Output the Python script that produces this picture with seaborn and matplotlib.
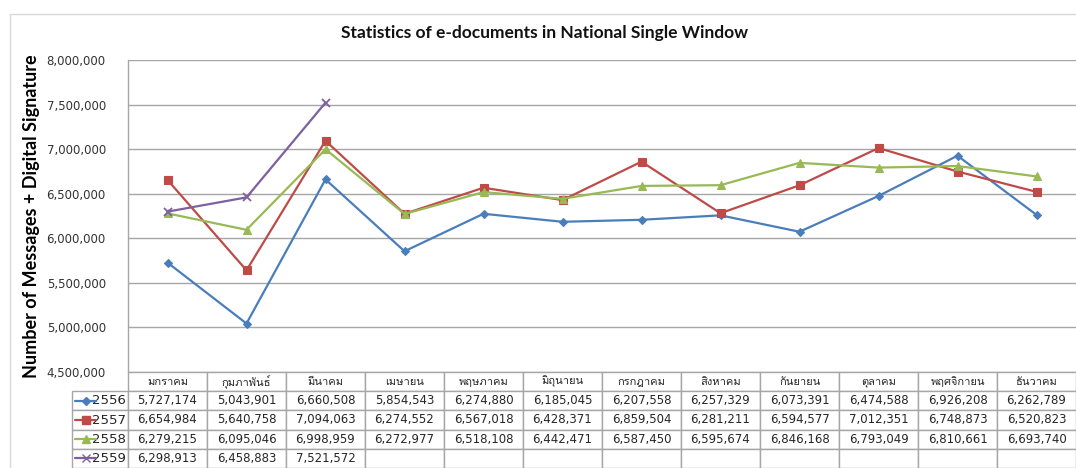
import matplotlib
matplotlib.use("Agg")
import matplotlib.pyplot as plt
from matplotlib import font_manager
from matplotlib.ft2font import FT2Font
from matplotlib.lines import Line2D
from matplotlib.table import Table
from matplotlib.ticker import FuncFormatter
import seaborn as sns
import pandas as pd
import numpy as np

# ---------------- data ----------------
months = ["มกราคม", "กุมภาพันธ์", "มีนาคม", "เมษายน", "พฤษภาคม", "มิถุนายน",
          "กรกฎาคม", "สิงหาคม", "กันยายน", "ตุลาคม", "พฤศจิกายน", "ธันวาคม"]
years = ["2556", "2557", "2558", "2559"]
y2556 = [5727174, 5043901, 6660508, 5854543, 6274880, 6185045,
         6207558, 6257329, 6073391, 6474588, 6926208, 6262789]
y2557 = [6654984, 5640758, 7094063, 6274552, 6567018, 6428371,
         6859504, 6281211, 6594577, 7012351, 6748873, 6520823]
y2558 = [6279215, 6095046, 6998959, 6272977, 6518108, 6442471,
         6587450, 6595674, 6846168, 6793049, 6810661, 6693740]
y2559 = [6298913, 6458883, 7521572]
title = "Statistics of e-documents in National Single Window"
ylabel = "Number of Messages + Digital Signature"
yticks = [4500000, 5000000, 5500000, 6000000, 6500000, 7000000, 7500000, 8000000]

series = {"2556": y2556, "2557": y2557, "2558": y2558, "2559": y2559}
colors = {"2556": "#4A7EBB", "2557": "#BE4B48", "2558": "#98B954", "2559": "#7D60A0"}
markers = {"2556": "D", "2557": "s", "2558": "^", "2559": "x"}
msizes = {"2556": 4.5, "2557": 6, "2558": 6, "2559": 6}

# ---------------- find a Thai-capable font ----------------
thai_family = None
for fe in font_manager.fontManager.ttflist:
    try:
        cm = FT2Font(fe.fname).get_charmap()
        if 0x0E21 in cm and 0x0E01 in cm:
            thai_family = fe.name
            break
    except Exception:
        pass
thai_fams = ([thai_family] if thai_family else []) + ["DejaVu Sans"]

sns.set_theme(style="white")
plt.rcParams["font.family"] = ["DejaVu Sans"] + ([thai_family] if thai_family else [])

W, H = 1076, 468
fig = plt.figure(figsize=(W / 100, H / 100), dpi=100)
fig.patch.set_facecolor("white")
ax_l, ax_r, ax_t, ax_b = 128, 1076, 60, 372
ax = fig.add_axes([ax_l / W, 1 - ax_b / H, (ax_r - ax_l) / W, (ax_b - ax_t) / H])
ax_w = ax_r - ax_l
ax_h = ax_b - ax_t

for yr in years:
    vals = series[yr]
    d = pd.DataFrame({"idx": np.arange(len(vals)), "value": vals})
    sns.lineplot(data=d, x="idx", y="value", color=colors[yr], marker=markers[yr],
                 markersize=msizes[yr], markeredgecolor=colors[yr],
                 markeredgewidth=1.3 if yr == "2559" else 0.8,
                 linewidth=1.6, legend=False, ax=ax, zorder=3)

ax.set_xlim(-0.5, 11.5)
ax.set_ylim(4500000, 8000000)
ax.set_yticks(yticks)
ax.yaxis.set_major_formatter(FuncFormatter(lambda v, p: f"{int(v):,}"))
ax.set_xticks([])
ax.set_xlabel("")
ax.set_ylabel(ylabel, fontsize=13, fontweight="bold", family=["Lato", "DejaVu Sans"],
              color="black")
ax.yaxis.set_label_coords((40 - ax_l) / ax_w, 0.5)
ax.tick_params(axis="y", labelsize=8.5, colors="#333333", length=0, pad=16)
for lab in ax.get_yticklabels():
    lab.set_color("#333333")
ax.yaxis.grid(True, color="#A6A6A6", linewidth=1.0)
ax.xaxis.grid(False)
for s in ["top", "right", "bottom"]:
    ax.spines[s].set_visible(False)
ax.spines["left"].set_color("#A6A6A6")
ax.spines["left"].set_linewidth(1.0)
ax.set_facecolor("white")

fig.text(545 / W, 1 - 33 / H, title, ha="center", va="center", fontsize=12.5,
         fontweight="bold", family=["Lato", "DejaVu Sans"], color="#111111")

# ---------------- data table ----------------
tab_left = 72
tab_h = (H - ax_b)
tbl = Table(ax, bbox=[0, -tab_h / ax_h, 1, tab_h / ax_h])
cw = 1.0 / 12
lw = (ax_l - tab_left) / ax_w
rh = 1.0 / 5
for j, m in enumerate(months):
    c = tbl.add_cell(0, j, width=cw, height=rh, text=m, loc="center")
    c.get_text().set_fontfamily(thai_fams)
    c.get_text().set_fontsize(8)
for i, yr in enumerate(years):
    vals = series[yr]
    lc = tbl.add_cell(i + 1, -1, width=lw, height=rh, text=yr, loc="right")
    lc.PAD = 0.03
    lc.get_text().set_fontsize(9.5)
    for j in range(12):
        txt = f"{vals[j]:,}" if j < len(vals) else ""
        c = tbl.add_cell(i + 1, j, width=cw, height=rh, text=txt, loc="center")
        c.get_text().set_fontsize(8.5)
tbl.auto_set_font_size(False)
for (r, c), cell in tbl.get_celld().items():
    cell.set_edgecolor("#A6A6A6")
    cell.set_linewidth(1.0)
    cell.set_facecolor("white")
    cell.get_text().set_color("#262626")
ax.add_table(tbl)

# legend keys inside row-label cells
row_h = tab_h / 5
for i, yr in enumerate(years):
    yc = ax_b + row_h * (i + 1) + row_h / 2
    yax = (ax_b - yc) / ax_h
    x0 = (75 - ax_l) / ax_w
    x1 = (96 - ax_l) / ax_w
    ln = Line2D([x0, (x0 + x1) / 2, x1], [yax, yax, yax], transform=ax.transAxes,
                color=colors[yr], linewidth=1.6, marker=markers[yr],
                markersize=msizes[yr], markevery=[1], clip_on=False,
                markeredgecolor=colors[yr], zorder=5)
    ax.add_line(ln)

# outer chart frame (partially visible)
fig.add_artist(Line2D([10 / W, 10 / W], [0, 1 - 14 / H], transform=fig.transFigure,
                      color="#D9D9D9", linewidth=1.0))
fig.add_artist(Line2D([10 / W, 1], [1 - 14 / H, 1 - 14 / H], transform=fig.transFigure,
                      color="#D9D9D9", linewidth=1.0))

fig.savefig("out.png", dpi=100, facecolor="white")
